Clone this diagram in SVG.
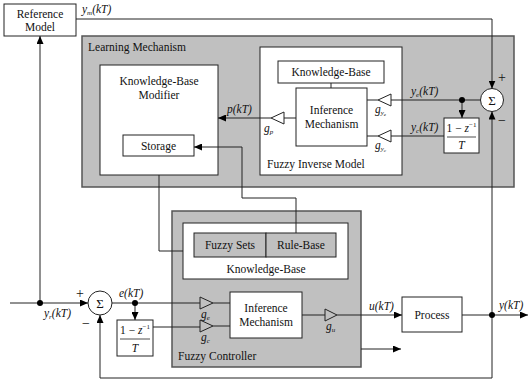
<svg xmlns="http://www.w3.org/2000/svg" width="529" height="382" viewBox="0 0 529 382" font-family="'Liberation Serif', 'DejaVu Serif', 'Times New Roman', serif">
<defs>
<marker id="ah" markerUnits="userSpaceOnUse" markerWidth="8" markerHeight="7" refX="8" refY="3.5" orient="auto">
<path d="M0,0 L8,3.5 L0,7 z" fill="#000"/>
</marker>
<style>
text{font-family:'Liberation Serif','DejaVu Serif','Times New Roman',serif}
.t{font-size:11.5px;fill:#111}
.i{font-size:11.5px;font-style:italic;fill:#111}
.s{font-size:7px}
.box{fill:#fff;stroke:#222;stroke-width:1}
.gray{fill:#c0c0c0;stroke:#555;stroke-width:1.5}
.gbox{fill:#c0c0c0;stroke:#222;stroke-width:1}
.w{fill:none;stroke:#222;stroke-width:1}
.arr{fill:none;stroke:#222;stroke-width:1;marker-end:url(#ah)}
.tri{fill:none;stroke:#222;stroke-width:1}
.dot{fill:#000}
.circ{fill:#fff;stroke:#222;stroke-width:1}
</style>
</defs>
<rect width="529" height="382" fill="#fff"/>

<g id="learning-mechanism">
<rect class="gray" x="82" y="36" width="432" height="151"/>
<text class="t" x="88" y="51">Learning Mechanism</text>
</g>
<g id="fuzzy-controller">
<rect class="gray" x="172" y="211" width="189" height="156"/>
<text class="t" x="178" y="360">Fuzzy Controller</text>
</g>

<g id="reference-model">
<rect class="box" x="4" y="4" width="72" height="32"/>
<text class="t" x="40" y="18" text-anchor="middle">Reference</text>
<text class="t" x="40" y="31" text-anchor="middle">Model</text>
</g>

<g id="kb-modifier">
<rect class="box" x="100" y="65" width="118" height="110"/>
<text class="t" x="159" y="85" text-anchor="middle">Knowledge-Base</text>
<text class="t" x="159" y="99" text-anchor="middle">Modifier</text>
</g>
<g id="storage">
<rect class="box" x="123" y="135" width="71" height="21"/>
<text class="t" x="158.5" y="150" text-anchor="middle">Storage</text>
</g>

<g id="fuzzy-inverse-model">
<rect class="box" x="260" y="47" width="142" height="128"/>
<text class="t" x="267" y="168">Fuzzy Inverse Model</text>
</g>
<g id="fim-kb">
<rect class="box" x="278" y="61" width="106" height="22"/>
<text class="t" x="331" y="76" text-anchor="middle">Knowledge-Base</text>
</g>
<g id="fim-inference">
<rect class="box" x="296" y="88" width="71" height="58"/>
<text class="t" x="331.5" y="114" text-anchor="middle">Inference</text>
<text class="t" x="331.5" y="128" text-anchor="middle">Mechanism</text>
</g>

<g id="sum2">
<circle class="circ" cx="492" cy="100" r="11.5"/>
<text class="t" x="492" y="104.5" text-anchor="middle" style="font-size:13px">Σ</text>
<text class="t" x="502" y="82" text-anchor="middle" style="font-size:14px">+</text>
<text class="t" x="502" y="125" text-anchor="middle" style="font-size:14px">−</text>
</g>
<g id="deriv2">
<rect class="box" x="444" y="118" width="35" height="35"/>
<text class="t" x="461.5" y="132" text-anchor="middle">1 − <tspan font-style="italic">z</tspan><tspan class="s" dy="-5">−1</tspan></text>
<line x1="447" y1="137" x2="476" y2="137" stroke="#222" stroke-width="0.8"/>
<text class="i" x="461.5" y="149" text-anchor="middle">T</text>
</g>

<g id="gain-gp">
<polygon class="tri" points="271,118 284,112 284,124"/>
<text class="i" x="264" y="132">g<tspan class="s" dy="2">p</tspan></text>
</g>
<g id="gain-gye">
<polygon class="tri" points="378,100 391,94 391,106"/>
<text class="i" x="375" y="113">g<tspan class="s" dy="2">y</tspan><tspan class="s" style="font-size:5px" dy="1">e</tspan></text>
</g>
<g id="gain-gyc">
<polygon class="tri" points="378,136 391,130 391,142"/>
<text class="i" x="375" y="149">g<tspan class="s" dy="2">y</tspan><tspan class="s" style="font-size:5px" dy="1">c</tspan></text>
</g>

<g id="controller-kb">
<rect class="box" x="183" y="223" width="165" height="56"/>
<rect class="gbox" x="194" y="233" width="72" height="24"/>
<rect class="gbox" x="266" y="233" width="70" height="24"/>
<text class="t" x="230" y="249" text-anchor="middle">Fuzzy Sets</text>
<text class="t" x="301" y="249" text-anchor="middle">Rule-Base</text>
<text class="t" x="266" y="273" text-anchor="middle">Knowledge-Base</text>
</g>
<g id="controller-inference">
<rect class="box" x="230" y="292" width="72" height="46"/>
<text class="t" x="266" y="312" text-anchor="middle">Inference</text>
<text class="t" x="266" y="326" text-anchor="middle">Mechanism</text>
</g>
<g id="gain-ge">
<polygon class="tri" points="213,303 200,297 200,309"/>
<text class="i" x="201" y="318">g<tspan class="s" dy="2">e</tspan></text>
</g>
<g id="gain-gc">
<polygon class="tri" points="213,326 200,320 200,332"/>
<text class="i" x="201" y="341">g<tspan class="s" dy="2">c</tspan></text>
</g>
<g id="gain-gu">
<polygon class="tri" points="337,315 325,309 325,321"/>
<text class="i" x="326" y="330">g<tspan class="s" dy="2">u</tspan></text>
</g>

<g id="sum1">
<circle class="circ" cx="100" cy="303" r="12"/>
<text class="t" x="100" y="307.5" text-anchor="middle" style="font-size:13px">Σ</text>
<text class="t" x="80" y="298" text-anchor="middle" style="font-size:14px">+</text>
<text class="t" x="86" y="328" text-anchor="middle" style="font-size:14px">−</text>
</g>
<g id="deriv1">
<rect class="box" x="117" y="320" width="36" height="36"/>
<text class="t" x="135" y="334" text-anchor="middle">1 − <tspan font-style="italic">z</tspan><tspan class="s" dy="-5">−1</tspan></text>
<line x1="120" y1="339" x2="150" y2="339" stroke="#222" stroke-width="0.8"/>
<text class="i" x="135" y="352" text-anchor="middle">T</text>
</g>

<g id="process">
<rect class="box" x="402" y="297" width="60" height="35"/>
<text class="t" x="432" y="319" text-anchor="middle">Process</text>
</g>

<g id="connectors">
<path class="arr" d="M76,19 H492 V88.5"/>
<path class="arr" d="M40,303 V36"/>
<path class="arr" d="M10,303 H88"/>
<path class="w" d="M112,303 H200"/>
<path class="arr" d="M135,303 V320"/>
<path class="w" d="M153,327 H200"/>
<path class="w" d="M213,303 H230 M213,326 H230"/>
<path class="w" d="M302,315 H325"/>
<path class="arr" d="M337,315 H402"/>
<path class="arr" d="M462,315 H528"/>
<path class="arr" d="M492,378 V111.5"/>
<path class="arr" d="M492,378 H100 V315"/>
<path class="arr" d="M361,349 H401"/>
<path class="w" d="M480.5,100 H391"/>
<path class="arr" d="M462,100 V118"/>
<path class="w" d="M444,136 H391"/>
<path class="w" d="M378,100 H367 M378,136 H367"/>
<path class="w" d="M296,118 H284"/>
<path class="arr" d="M271,118 H218"/>
<path class="w" d="M331,83 V88"/>
<path class="arr" d="M296,233 V198 H242 V147 H194"/>
<path class="w" d="M159,175 V251 H183"/>
<circle class="dot" cx="40" cy="303" r="3"/>
<circle class="dot" cx="135" cy="303" r="3"/>
<circle class="dot" cx="492" cy="315" r="3"/>
<circle class="dot" cx="462" cy="100" r="3"/>
</g>

<g id="labels">
<text class="i" x="82" y="13">y<tspan class="s" dy="2">m</tspan><tspan dy="-2">(kT)</tspan></text>
<text class="i" x="44" y="317">y<tspan class="s" dy="2">r</tspan><tspan dy="-2">(kT)</tspan></text>
<text class="i" x="119" y="297">e(kT)</text>
<text class="i" x="369" y="310">u(kT)</text>
<text class="i" x="499" y="309">y(kT)</text>
<text class="i" x="227" y="113">p(kT)</text>
<text class="i" x="411" y="95">y<tspan class="s" dy="2">e</tspan><tspan dy="-2">(kT)</tspan></text>
<text class="i" x="411" y="131">y<tspan class="s" dy="2">c</tspan><tspan dy="-2">(kT)</tspan></text>
</g>
</svg>
